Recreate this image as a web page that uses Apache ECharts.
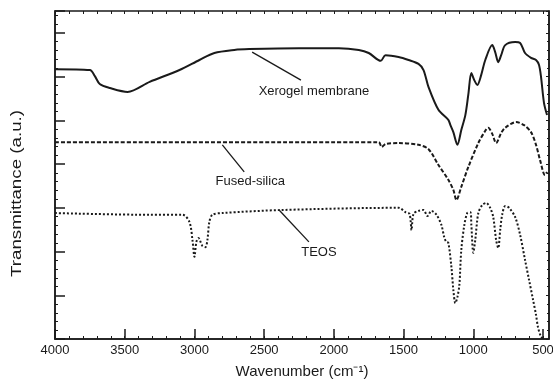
<!DOCTYPE html>
<html>
<head>
<meta charset="utf-8">
<script src="https://cdn.jsdelivr.net/npm/echarts@6/dist/echarts.min.js"></script>
<style>
  html, body { margin: 0; padding: 0; background: #fff; }
  #chart { width: 553px; height: 384px; }
</style>
</head>
<body>
<div id="chart"></div>
<script>
// wavenumber ticks (cm-1)
const xTicks = [4000, 3500, 3000, 2500, 2000, 1500, 1000, 500];

// Xerogel membrane (solid)
const xerogelWn = [4000, 3750, 3714, 3679, 3607, 3479, 3321, 3107, 2964, 2857, 2714, 2607, 2250, 1964, 1821, 1750, 1664, 1629, 1536, 1464, 1393, 1357, 1321, 1250, 1179, 1164, 1143, 1114, 1086, 1057, 1036, 1014, 993, 971, 943, 914, 864, 843, 821, 800, 771, 700, 664, 629, 586, 550, 529, 514, 493, 471];
const xerogelT = [6.17, 6.15, 6.01, 5.83, 5.74, 5.65, 5.88, 6.15, 6.38, 6.54, 6.61, 6.63, 6.65, 6.65, 6.61, 6.54, 6.36, 6.49, 6.45, 6.38, 6.29, 6.15, 5.76, 5.24, 5.01, 4.89, 4.73, 4.44, 4.78, 5.12, 5.58, 6.08, 5.92, 5.81, 6.04, 6.38, 6.72, 6.56, 6.33, 6.49, 6.72, 6.79, 6.77, 6.54, 6.43, 6.38, 6.27, 5.99, 5.40, 5.12];

// Fused-silica (dashed)
const silicaWn = [4000, 1679, 1657, 1629, 1536, 1393, 1321, 1250, 1179, 1143, 1121, 1086, 1036, 964, 914, 893, 864, 836, 800, 771, 693, 636, 586, 550, 521, 486, 471];
const silicaT = [4.50, 4.50, 4.39, 4.46, 4.48, 4.44, 4.34, 3.98, 3.64, 3.41, 3.18, 3.48, 3.93, 4.48, 4.76, 4.83, 4.69, 4.48, 4.71, 4.83, 4.96, 4.89, 4.73, 4.44, 4.09, 3.75, 3.82];

// TEOS (dotted)
const teosWn = [4000, 3321, 3086, 3036, 3014, 3000, 2986, 2971, 2943, 2921, 2907, 2893, 2871, 2800, 2371, 1536, 1486, 1457, 1443, 1429, 1393, 1357, 1329, 1300, 1264, 1229, 1207, 1193, 1179, 1157, 1143, 1129, 1114, 1100, 1086, 1064, 1043, 1021, 1014, 1000, 986, 964, 936, 907, 879, 857, 836, 821, 807, 793, 771, 743, 700, 664, 629, 600, 571, 550, 536, 514, 500];
const teosT = [2.88, 2.84, 2.84, 2.68, 2.26, 1.88, 2.22, 2.31, 2.13, 2.10, 2.26, 2.68, 2.84, 2.88, 2.95, 3.00, 2.90, 2.86, 2.49, 2.86, 2.93, 2.95, 2.81, 2.93, 2.84, 2.61, 2.31, 2.22, 2.20, 1.65, 1.12, 0.82, 0.96, 1.23, 2.04, 2.61, 2.88, 2.90, 2.61, 1.97, 2.26, 2.88, 3.06, 3.11, 3.00, 2.79, 2.26, 2.08, 2.49, 2.84, 3.04, 3.00, 2.79, 2.38, 1.81, 1.35, 0.89, 0.55, 0.27, 0.05, 0.02];

// annotation labels: leader start, leader end, text position (data coords)
const labelNames = ['Xerogel membrane', 'Fused-silica', 'TEOS'];
const leaderStart = [[2586, 6.56], [2800, 4.44], [2393, 2.95]];
const leaderEnd = [[2236, 5.92], [2643, 3.82], [2179, 2.22]];
const labelPos = [[2143, 5.67], [2600, 3.61], [2107, 1.99]];

const ink = '#1a1a1a';
const font = '"Liberation Sans", Arial, sans-serif';

const minorTicks = [];
for (let v = 4000; v >= 500; v -= 100) minorTicks.push(v);

const zip = (a, b) => a.map((v, i) => [v, b[i]]);

function makeSeries(name, wn, t, dash, idx) {
  return {
    name: name,
    type: 'line',
    data: zip(wn, t),
    showSymbol: false,
    smooth: 0.3,
    lineStyle: { color: ink, width: 2, type: dash },
    markLine: {
      silent: true,
      symbol: 'none',
      label: { show: false },
      lineStyle: { color: ink, width: 1.3, type: 'solid' },
      data: [[{ coord: leaderStart[idx] }, { coord: leaderEnd[idx] }]]
    },
    markPoint: {
      silent: true,
      symbol: 'circle',
      symbolSize: 0,
      label: {
        show: true,
        position: 'inside',
        formatter: name,
        color: ink,
        fontSize: 13,
        fontFamily: font
      },
      data: [{ coord: labelPos[idx] }]
    }
  };
}

const chart = echarts.init(document.getElementById('chart'));

const xBase = {
  type: 'value',
  inverse: true,
  min: 457,
  max: 4000,
  splitLine: { show: false }
};

const option = {
  animation: false,
  backgroundColor: '#fff',
  grid: {
    left: 55, right: 4, top: 11, bottom: 45,
    containLabel: false,
    outerBoundsMode: 'none',
    show: true, borderColor: ink, borderWidth: 1.5
  },
  xAxis: [
    Object.assign({}, xBase, {
      axisLine: { lineStyle: { color: ink, width: 1.5 } },
      axisTick: { inside: true, length: 10, customValues: xTicks, lineStyle: { color: ink, width: 1.5 } },
      axisLabel: {
        customValues: xTicks,
        showMinLabel: true,
        showMaxLabel: true,
        hideOverlap: false,
        formatter: v => String(v),
        color: ink, fontSize: 13, fontFamily: font, margin: 5
      },
      name: 'Wavenumber (cm\u207B\u00B9)',
      nameLocation: 'middle',
      nameGap: 25,
      nameTextStyle: { color: ink, fontSize: 15, fontFamily: font }
    }),
    Object.assign({}, xBase, {
      position: 'bottom',
      axisLine: { show: false },
      axisTick: { inside: true, length: 3, customValues: minorTicks, lineStyle: { color: ink } },
      axisLabel: { show: false }
    }),
    Object.assign({}, xBase, {
      position: 'top',
      axisLine: { show: false },
      axisTick: { inside: true, length: 3, customValues: minorTicks, lineStyle: { color: ink } },
      axisLabel: { show: false }
    })
  ],
  yAxis: [
    {
      type: 'value',
      min: 0,
      max: 7.5,
      interval: 1,
      splitLine: { show: false },
      axisLine: { show: true, lineStyle: { color: ink, width: 1.5 } },
      axisTick: { inside: true, length: 10, lineStyle: { color: ink, width: 1.5 } },
      minorTick: { show: true, splitNumber: 5, length: 3, lineStyle: { color: ink } },
      axisLabel: { show: false }
    },
    {
      type: 'value',
      min: 0,
      max: 7.5,
      interval: 1,
      position: 'right',
      splitLine: { show: false },
      axisLine: { show: true, lineStyle: { color: ink, width: 1.5 } },
      axisTick: { inside: true, length: 3, lineStyle: { color: ink } },
      minorTick: { show: true, splitNumber: 5, length: 2, lineStyle: { color: ink } },
      axisLabel: { show: false }
    }
  ],
  graphic: [
    {
      type: 'text',
      x: 9,
      y: 277,
      rotation: Math.PI / 2,
      scaleX: 1.25,
      silent: true,
      style: {
        text: 'Transmittance (a.u.)',
        fill: ink,
        fontSize: 15,
        fontFamily: font
      }
    }
  ],
  series: [
    makeSeries(labelNames[0], xerogelWn, xerogelT, 'solid', 0),
    makeSeries(labelNames[1], silicaWn, silicaT, [4, 2], 1),
    makeSeries(labelNames[2], teosWn, teosT, [2, 2], 2)
  ]
};

chart.setOption(option);
</script>
</body>
</html>
